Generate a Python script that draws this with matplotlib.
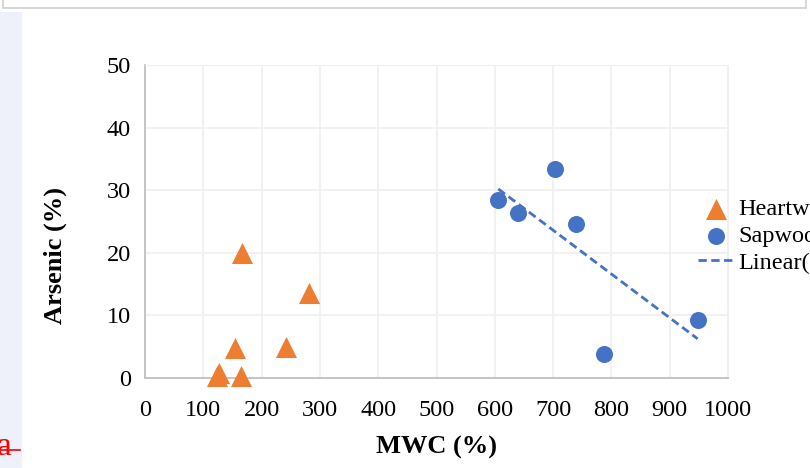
import numpy as np
import matplotlib
matplotlib.use("Agg")
import matplotlib.pyplot as plt
from matplotlib.patches import Rectangle
from matplotlib.lines import Line2D

plt.rcParams['font.family'] = ['Liberation Serif', 'DejaVu Serif']

# Heartwood samples
heart_mwc = [166, 281, 155, 242, 124, 127, 165]
heart_as = [20.0, 13.6, 4.8, 5.0, 0.3, 0.8, 0.3]

# Sapwood samples
sap_mwc = [606, 639, 703, 740, 788, 948]
sap_as = [28.5, 26.3, 33.4, 24.6, 3.9, 9.3]

xticks = [0, 100, 200, 300, 400, 500, 600, 700, 800, 900, 1000]
yticks = [0, 10, 20, 30, 40, 50]

W, H = 810, 468
fig = plt.figure(figsize=(8.1, 4.68), dpi=100)

# page bits around the chart (screenshot residue)
fig.patches.append(Rectangle((3 / W, 1 - 8 / H), 803 / W, 9 / H, transform=fig.transFigure,
                             facecolor='white', edgecolor='#d0d0d0', lw=1.2))
fig.patches.append(Rectangle((0, 0), 22 / W, 1 - 12 / H, transform=fig.transFigure,
                             facecolor='#eef0fa', edgecolor='none'))
fig.text(-3 / W, 1 - 447 / H, 'a', color='red', fontsize=24, va='center', ha='left')
fig.lines.append(Line2D([0, 20 / W], [1 - 450 / H, 1 - 450 / H], transform=fig.transFigure,
                        color='red', lw=1.2))

ax = fig.add_axes([145 / W, 1 - 378 / H, (728 - 145) / W, (378 - 65) / H])

ax.scatter(heart_mwc, heart_as, marker='^', s=230, color='#ED7D31', label='Heartwood',
           zorder=3, linewidths=0, clip_on=False)
ax.scatter(sap_mwc, sap_as, marker='o', s=150, color='#4472C4', label='Sapwood',
           zorder=3, linewidths=0, clip_on=False)

# linear trend of sapwood
k, b = np.polyfit(sap_mwc, sap_as, 1)
xs = np.array([min(sap_mwc), max(sap_mwc)])
ax.plot(xs, k * xs + b, ls=(0, (3, 1.6)), color='#4472C4', lw=2, label='Linear(Sapwood)', zorder=2)

ax.set_xlim(0, 1000)
ax.set_ylim(0, 50)
ax.set_xticks(xticks)
ax.set_yticks(yticks)
ax.grid(True, color='#efefef', lw=1.2)
ax.set_axisbelow(True)
for s in ['top', 'right']:
    ax.spines[s].set_color('#efefef')
for s in ['left', 'bottom']:
    ax.spines[s].set_color('#c0c0c0')
    ax.spines[s].set_linewidth(1.3)
ax.tick_params(length=0, labelsize=17.5)
ax.tick_params(axis='x', pad=16)
ax.tick_params(axis='y', pad=10)

fig.text(437 / W, 1 - 447 / H, 'MWC (%)', fontsize=19, fontweight='bold', ha='center', va='center')
fig.text(55 / W, 1 - 256 / H, 'Arsenic (%)', fontsize=19, fontweight='bold', ha='center',
         va='center', rotation=90)

ax.legend(loc='upper left', bbox_to_anchor=(686 / W, 1 - 186 / H), bbox_transform=fig.transFigure,
          frameon=False, fontsize=17.5, handlelength=1.45, handletextpad=0.2, labelspacing=0.2,
          borderpad=0, scatterpoints=1)

fig.savefig('out.png', dpi=100)
